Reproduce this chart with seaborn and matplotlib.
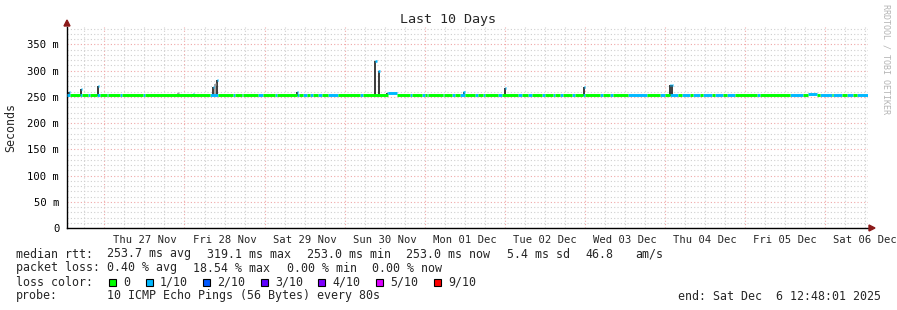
import numpy as np
import pandas as pd
import matplotlib.pyplot as plt
import matplotlib.dates as mdates
import matplotlib.ticker as mticker
from matplotlib.patches import Rectangle, Polygon
import seaborn as sns

# Smokeping "Last 10 Days" graph
end_time = pd.Timestamp('2025-12-06 12:48:01')
start_time = end_time - pd.Timedelta(days=10)

# median rtt as steps: segment start (hours after start), loss count (of 10), rtt (ms)
seg_start_h = [0.0, 0.9, 3.9, 4.5, 6.3, 6.9, 9.0, 9.9, 12.0, 12.3, 15.9, 16.5, 22.8, 23.4,
               42.8, 45.2, 49.7, 50.3, 52.4, 52.7, 57.2, 58.7, 62.3, 62.9, 68.9, 69.5,
               70.7, 71.9, 72.8, 73.7, 75.2, 76.4, 78.2, 81.2, 87.8, 88.7, 96.2, 98.9,
               102.8, 103.4, 106.4, 107.3, 107.9, 108.2, 112.7, 113.0, 115.4, 116.3,
               117.8, 119.3, 122.2, 123.1, 124.6, 125.2, 129.1, 130.3, 135.1, 136.3,
               138.1, 139.3, 142.3, 143.2, 145.6, 146.2, 147.7, 148.6, 151.3, 152.2,
               154.6, 155.2, 159.7, 160.6, 162.7, 163.6, 168.1, 173.8, 177.7, 179.2,
               180.7, 183.2, 184.4, 186.7, 187.6, 189.7, 190.6, 193.3, 194.2, 196.6,
               197.8, 200.1, 206.7, 207.6, 216.6, 220.5, 222.0, 224.7, 225.6, 229.2,
               229.5, 232.2, 233.7, 235.5, 236.7]
seg_loss = [1, 0, 1, 0, 1, 0, 1, 0, 1, 0, 1, 0, 1, 0,
            1, 0, 1, 0, 1, 0, 1, 0, 1, 0, 1, 0,
            1, 0, 1, 0, 1, 0, 1, 0, 1, 0, 1, 0,
            1, 0, 1, 0, 1, 0, 1, 0, 1, 0,
            1, 0, 1, 0, 1, 0, 1, 0, 1, 0,
            1, 0, 1, 0, 1, 0, 1, 0, 1, 0,
            1, 0, 1, 0, 1, 0, 1, 0, 1, 0,
            1, 0, 1, 0, 1, 0, 1, 0, 1, 0,
            1, 0, 1, 0, 1, 0, 1, 0, 1, 0,
            1, 0, 1, 0, 1]
seg_rtt_ms = [253.0] * len(seg_start_h)
seg_rtt_ms[36] = 257.0   # Sun 30 Nov plateau
seg_rtt_ms[94] = 256.0   # Fri 05 Dec bump

# short spikes in the smoke: time (hours after start), peak rtt (ms), shade
spike_h = [0.6, 4.2, 9.3, 33.3, 37.8, 43.7, 44.3, 44.9, 68.9, 92.4, 93.4,
           95.9, 118.9, 131.2, 154.9, 180.7, 181.3]
spike_ms = [260, 265, 270, 258, 255, 268, 275, 282, 260, 319, 300,
            257, 259, 267, 268, 272, 272]
spike_shade = ['dark', 'dark', 'dark', 'grey', 'dark', 'dark', 'grey', 'dark', 'dark',
               'dark', 'dark', 'dark', 'dark', 'dark', 'dark', 'dark', 'dark']

loss_labels = ['0', '1/10', '2/10', '3/10', '4/10', '5/10', '9/10']
loss_colors = ['#00ff00', '#00b8ff', '#0059ff', '#5e00ff', '#7e00ff', '#dd00ff', '#ff0000']

median_row = ['median rtt:', '253.7 ms avg', '319.1 ms max', '253.0 ms min',
              '253.0 ms now', '5.4 ms sd', '46.8', 'am/s']
loss_row = ['packet loss:', '0.40 % avg', '18.54 % max', '0.00 % min', '0.00 % now']

W, H = 897, 310
sns.set_theme(style='white')
plt.rcParams['font.family'] = ['DejaVu Sans Mono', 'DejaVu Sans']

fig = plt.figure(figsize=(W / 100, H / 100), dpi=100)
fig.patch.set_facecolor('white')
ax = fig.add_axes([67 / W, 82 / H, 801 / W, 201 / H])
ax.set_facecolor('white')

# build step segments
rows = []
for i, (h0, loss, rtt) in enumerate(zip(seg_start_h, seg_loss, seg_rtt_ms)):
    h1 = seg_start_h[i + 1] if i + 1 < len(seg_start_h) else 240.0
    for h in (h0, h1):
        rows.append({'time': start_time + pd.Timedelta(hours=h), 'rtt': rtt / 1000.0,
                     'loss': loss_labels[loss], 'seg': i})
df = pd.DataFrame(rows)

# spikes (smoke) first so the median line sits on top
for h, ms, shade in zip(spike_h, spike_ms, spike_shade):
    t = start_time + pd.Timedelta(hours=h)
    col = '#1c1c1c' if shade == 'dark' else '#9a9a9a'
    ax.vlines(t, 0.2515, ms / 1000.0, color=col, lw=1.2, zorder=3)
    ax.hlines(ms / 1000.0, t - pd.Timedelta(hours=0.1), t + pd.Timedelta(hours=0.4),
              color=loss_colors[1] if shade == 'dark' else '#9a9a9a', lw=1.8, zorder=4)

sns.lineplot(data=df, x='time', y='rtt', hue='loss', units='seg', estimator=None,
             palette={'0': loss_colors[0], '1/10': loss_colors[1]}, lw=2.1,
             legend=False, ax=ax, zorder=5, solid_capstyle='butt')

ax.set_xlim(start_time, end_time)
ax.set_ylim(0, 0.383)

# grid
ax.xaxis.set_major_locator(mdates.DayLocator())
ax.xaxis.set_minor_locator(mdates.HourLocator(byhour=[6, 12, 18]))
ax.xaxis.set_major_formatter(mticker.NullFormatter())


def day_label(x, pos):
    d = mdates.num2date(x)
    return d.strftime('%a %d %b') if d.hour == 12 else ''


ax.xaxis.set_minor_formatter(mticker.FuncFormatter(day_label))
ax.yaxis.set_major_locator(mticker.MultipleLocator(0.05))
ax.yaxis.set_minor_locator(mticker.MultipleLocator(0.01))
ax.yaxis.set_major_formatter(mticker.FuncFormatter(
    lambda v, p: '0' if abs(v) < 1e-9 else f'{v * 1000:.0f} m'))

ax.grid(which='major', color='#f0a8a8', linestyle=(0, (1, 2)), lw=0.8)
ax.grid(which='minor', color='#cfcfcf', linestyle=(0, (1, 2)), lw=0.8)
ax.set_axisbelow(True)

ax.tick_params(axis='y', which='major', length=3, direction='inout', width=0.8,
               labelsize=7.6, pad=4, colors='black')
ax.tick_params(axis='y', which='minor', length=0)
ax.tick_params(axis='x', which='major', length=3, direction='inout', width=0.8, pad=2)
ax.tick_params(axis='x', which='minor', length=0, labelsize=7.6, pad=5)

for s in ['top', 'right']:
    ax.spines[s].set_visible(False)
for s in ['left', 'bottom']:
    ax.spines[s].set_color('black')
    ax.spines[s].set_linewidth(1.0)

ax.set_xlabel('')
ax.set_ylabel('')

# arrow heads on the axes
arrow_col = '#8b1a1a'
fig.add_artist(Polygon([[64 / W, 1 - 26 / H], [70 / W, 1 - 26 / H], [67 / W, 1 - 20 / H]],
                       closed=True, transform=fig.transFigure, color=arrow_col))
fig.add_artist(Polygon([[869 / W, 1 - 225 / H], [869 / W, 1 - 231 / H], [875 / W, 1 - 228 / H]],
                       closed=True, transform=fig.transFigure, color=arrow_col))

fs = 8.4


def ftext(x, y, s, **kw):
    fig.text(x / W, 1 - y / H, s, va='center', fontsize=kw.pop('fontsize', fs), **kw)


ftext(448, 20, 'Last 10 Days', ha='center', fontsize=9.6)
ftext(11, 127, 'Seconds', ha='center', rotation=90, fontsize=8.4)
ftext(886, 59, 'RRDTOOL / TOBI OETIKER', ha='center', rotation=270, fontsize=6.0,
      color='#b4b4b4')

# legend block
for x, s in zip([16, 107, 207, 307, 406, 507, 585, 635], median_row):
    ftext(x, 254, s)
for x, s in zip([16, 107, 193, 287, 372], loss_row):
    ftext(x, 268, s)
ftext(16, 282, 'loss color:')
for x, lab, col in zip([109, 146, 203, 261, 318, 376, 434], loss_labels, loss_colors):
    fig.add_artist(Rectangle((x / W, 1 - 286 / H), 7 / W, 7 / H, transform=fig.transFigure,
                             facecolor=col, edgecolor='black', lw=0.8))
    ftext(x + 14, 282, lab)
ftext(16, 296, 'probe:')
ftext(107, 296, '10 ICMP Echo Pings (56 Bytes) every 80s')
ftext(881, 296, 'end: Sat Dec  6 12:48:01 2025', ha='right')

fig.savefig('out.png', dpi=100, facecolor='white')
